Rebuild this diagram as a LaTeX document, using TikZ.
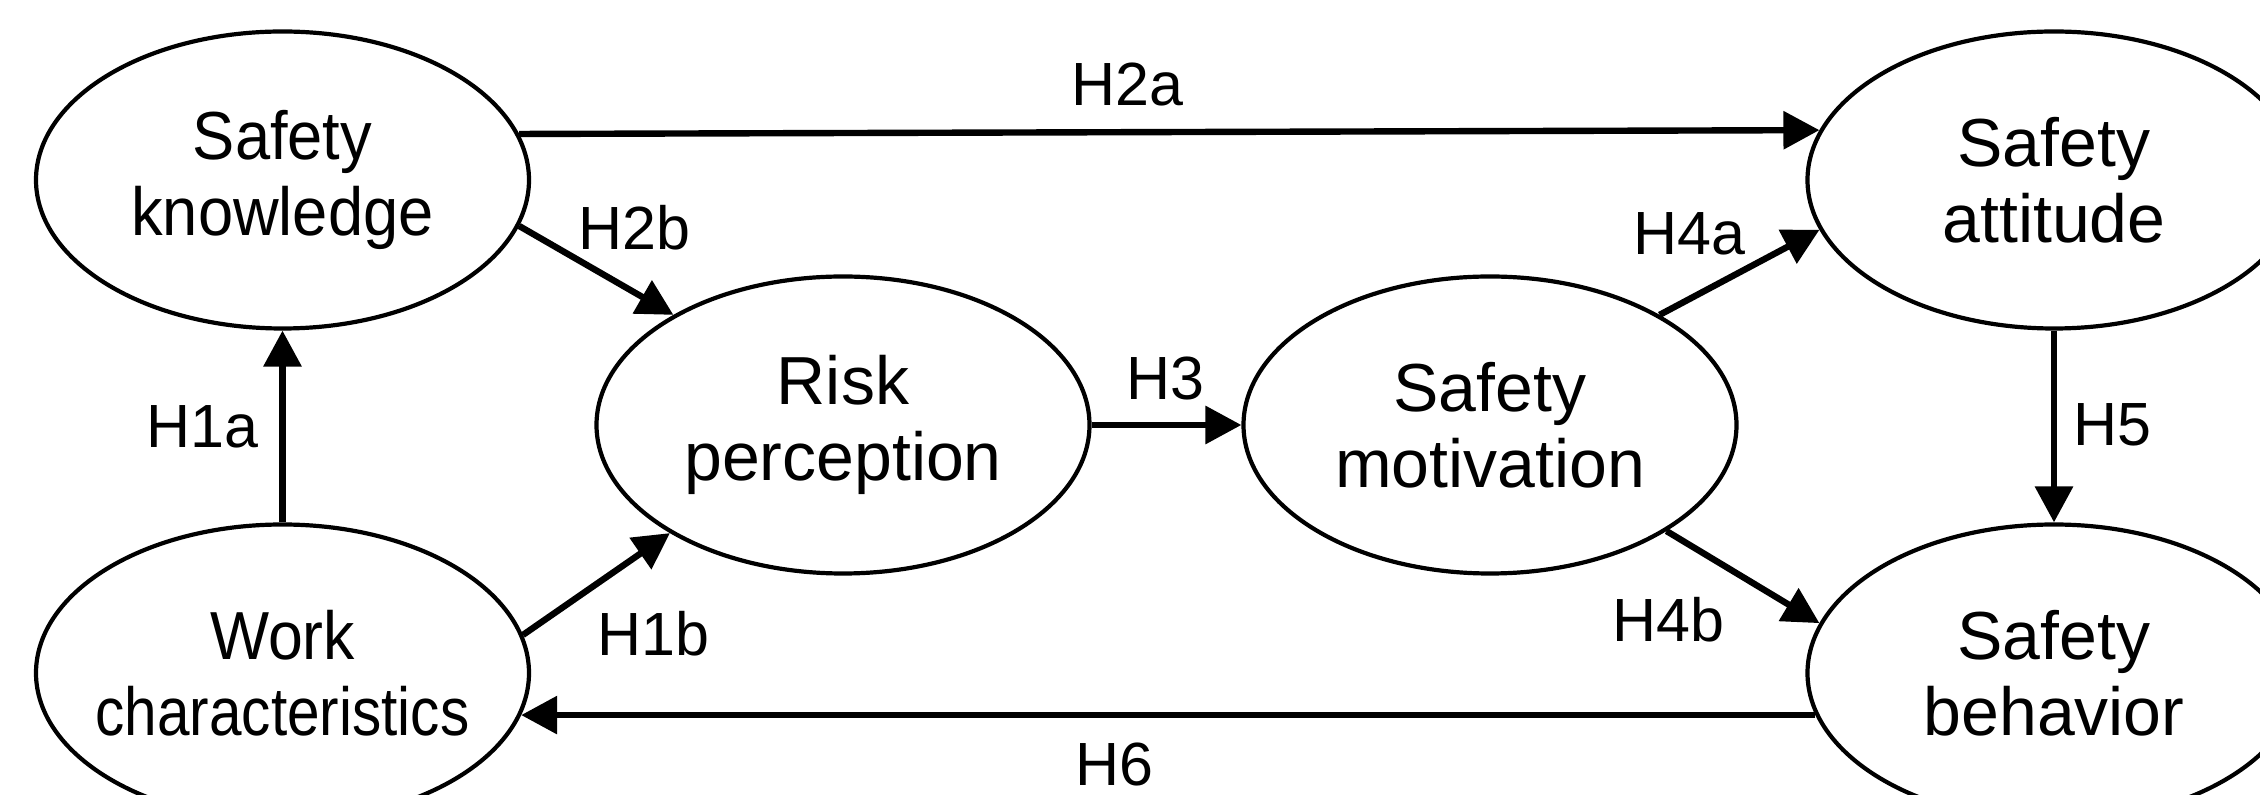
\documentclass[tikz,border=0pt]{standalone}
\usepackage{fontspec}
\setmainfont{Liberation Sans}
\usetikzlibrary{shapes.geometric,arrows.meta}
\begin{document}
\begin{tikzpicture}[x=0.5pt,y=-0.5pt,
 var/.style={ellipse,draw,line width=2.1pt,minimum width=246.5pt,minimum height=148.5pt,inner xsep=-20pt,inner ysep=0pt,align=center,font=\fontsize{34}{38}\selectfont},
 conn/.style={line width=3.2pt,-{Triangle[length=18pt,width=18.5pt]}},
 lab/.style={font=\fontsize{30.5}{35}\selectfont,inner sep=0pt}]
\useasboundingbox (0,0) rectangle (2260,795);
\node[var] (sk) at (282.5,180) {\scalebox{0.93}[1]{Safety}\\\scalebox{0.93}[1]{knowledge}};
\node[var] (wc) at (282.5,673) {\scalebox{0.92}[1]{Work}\\\scalebox{0.86}[1]{characteristics}};
\node[var] (rp) at (843,425) {Risk\\perception};
\node[var] (sm) at (1490,425) {Safety\\motivation};
\node[var] (sa) at (2054,180) {Safety\\attitude};
\node[var] (sb) at (2054,673) {Safety\\behavior};
\draw[conn] (sk.11.9) -- (sa.168.1);
\draw[conn] (sk.-11.7) -- (rp.147.7);
\draw[conn] (wc.north) -- (sk.south);
\draw[conn] (wc.9.4) -- (rp.212.3);
\draw[conn] (rp.east) -- (sm.west);
\draw[conn] (sm.33.6) -- (sa.192.2);
\draw[conn] (sm.-31.7) -- (sb.168.1);
\draw[conn] (sa.south) -- (sb.north);
\draw[conn] (sb.190.4) -- (wc.-10.4);
\node[lab] (l2a) at (1127,85) {H2a};
\node[lab] (l2b) at (634,228) {H2b};
\node[lab] (l1a) at (202,427) {H1a};
\node[lab] (l1b) at (653,634) {H1b};
\node[lab] (l3) at (1165,379) {H3};
\node[lab] (l4a) at (1689,234) {H4a};
\node[lab] (l4b) at (1668,620) {H4b};
\node[lab] (l5) at (2112,425) {H5};
\node[lab] (l6) at (1114,765) {H6};
\end{tikzpicture}
\end{document}
